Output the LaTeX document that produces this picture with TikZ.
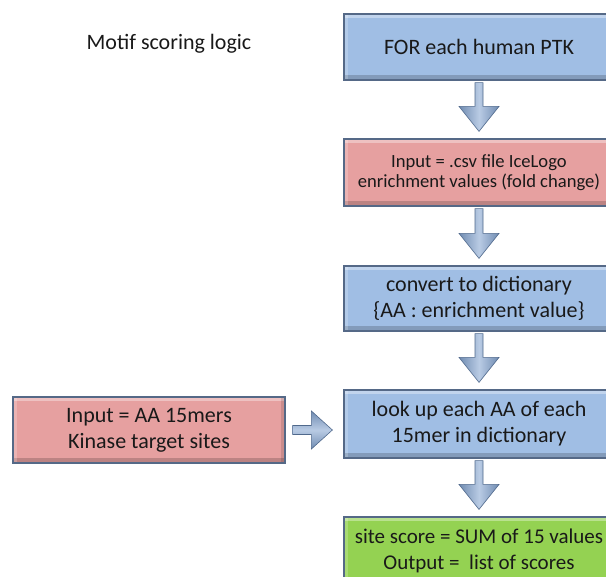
\documentclass[tikz,border=0pt]{standalone}
\usepackage{fontspec}
\setmainfont{Carlito}
\usetikzlibrary{calc,shadings}
\definecolor{boxblue}{RGB}{160,190,228}
\definecolor{boxred}{RGB}{230,160,160}
\definecolor{boxgreen}{RGB}{148,210,82}
\definecolor{edgegray}{RGB}{85,105,135}
\definecolor{txt}{RGB}{25,25,25}
\definecolor{arrowmid}{RGB}{185,203,228}
\definecolor{arrowside}{RGB}{112,140,178}
\definecolor{arrowedge}{RGB}{80,105,140}
\tikzset{
  flowbox/.style={draw=edgegray, line width=1.2pt, minimum width=270pt, minimum height=66pt,
    inner sep=0pt, align=center, text=txt,
    font=\fontsize{22}{26}\selectfont,
    path picture={
      \fill[black,opacity=0.18] ([yshift=5pt]path picture bounding box.south west) rectangle (path picture bounding box.south east);
      \fill[white,opacity=0.35] (path picture bounding box.north west) rectangle ([yshift=-4pt]path picture bounding box.north east);
      \fill[white,opacity=0.2] (path picture bounding box.north west) rectangle ([xshift=4pt]path picture bounding box.south west);
      \fill[black,opacity=0.12] ([xshift=-4pt]path picture bounding box.north east) rectangle (path picture bounding box.south east);
    }},
  bluebox/.style={flowbox, fill=boxblue},
  redbox/.style={flowbox, fill=boxred},
  greenbox/.style={flowbox, fill=boxgreen},
  arrowshape/.style={draw=arrowedge, line width=0.6pt, line join=miter,
    left color=arrowside, right color=arrowside, middle color=arrowmid},
  sideshape/.style={draw=arrowedge, line width=0.6pt, line join=miter,
    top color=arrowside, bottom color=arrowside, middle color=arrowmid},
  titletext/.style={text=txt, font=\fontsize{22}{26}\selectfont}
}
\newcommand{\blockdown}[2]{%
  \path[arrowshape] let \p1=($(#1.south)+(0,-2pt)$), \p2=($(#2.north)+(0,7pt)$) in
    (\x1-4pt,\y1) -- (\x1+4pt,\y1) -- (\x1+4pt,\y2+25pt) -- (\x1+20pt,\y2+25pt)
    -- (\x1,\y2) -- (\x1-20pt,\y2+25pt) -- (\x1-4pt,\y2+25pt) -- cycle;}
\newcommand{\blockright}[2]{%
  \path[sideshape] let \p1=($(#1.east)+(7pt,0)$), \p2=($(#2.west)+(-11pt,0)$) in
    (\x1,\y1+4.5pt) -- (\x1,\y1-4.5pt) -- (\x2-21pt,\y1-4.5pt) -- (\x2-21pt,\y1-19pt)
    -- (\x2,\y1) -- (\x2-21pt,\y1+19pt) -- (\x2-21pt,\y1+4.5pt) -- cycle;}
\begin{document}
\begin{tikzpicture}[x=1pt,y=1pt]
\useasboundingbox (0,0) rectangle (606,-577);
\node[titletext] (title) at (169,-44) {Motif scoring logic};
\node[bluebox] (b1) at (479,-47) {FOR each human PTK};
\node[redbox, minimum height=67pt, font=\fontsize{18.6}{19.5}\selectfont] (b2) at (479,-172.5) {Input = .csv file IceLogo\\enrichment values (fold change)};
\node[bluebox, minimum height=65pt] (b3) at (479,-298.5) {convert to dictionary\\\{AA : enrichment value\}};
\node[bluebox, minimum height=68pt] (b4) at (479,-424) {look up each AA of each\\15mer in dictionary};
\node[greenbox, minimum height=68pt, font=\fontsize{21}{26}\selectfont] (b5) at (479,-551) {site score = SUM of 15 values\\Output =~ list of scores};
\node[redbox, minimum width=272pt] (inp) at (149,-430) {Input = AA 15mers\\Kinase target sites};
\blockdown{b1}{b2}
\blockdown{b2}{b3}
\blockdown{b3}{b4}
\blockdown{b4}{b5}
\blockright{inp}{b4}
\end{tikzpicture}
\end{document}
